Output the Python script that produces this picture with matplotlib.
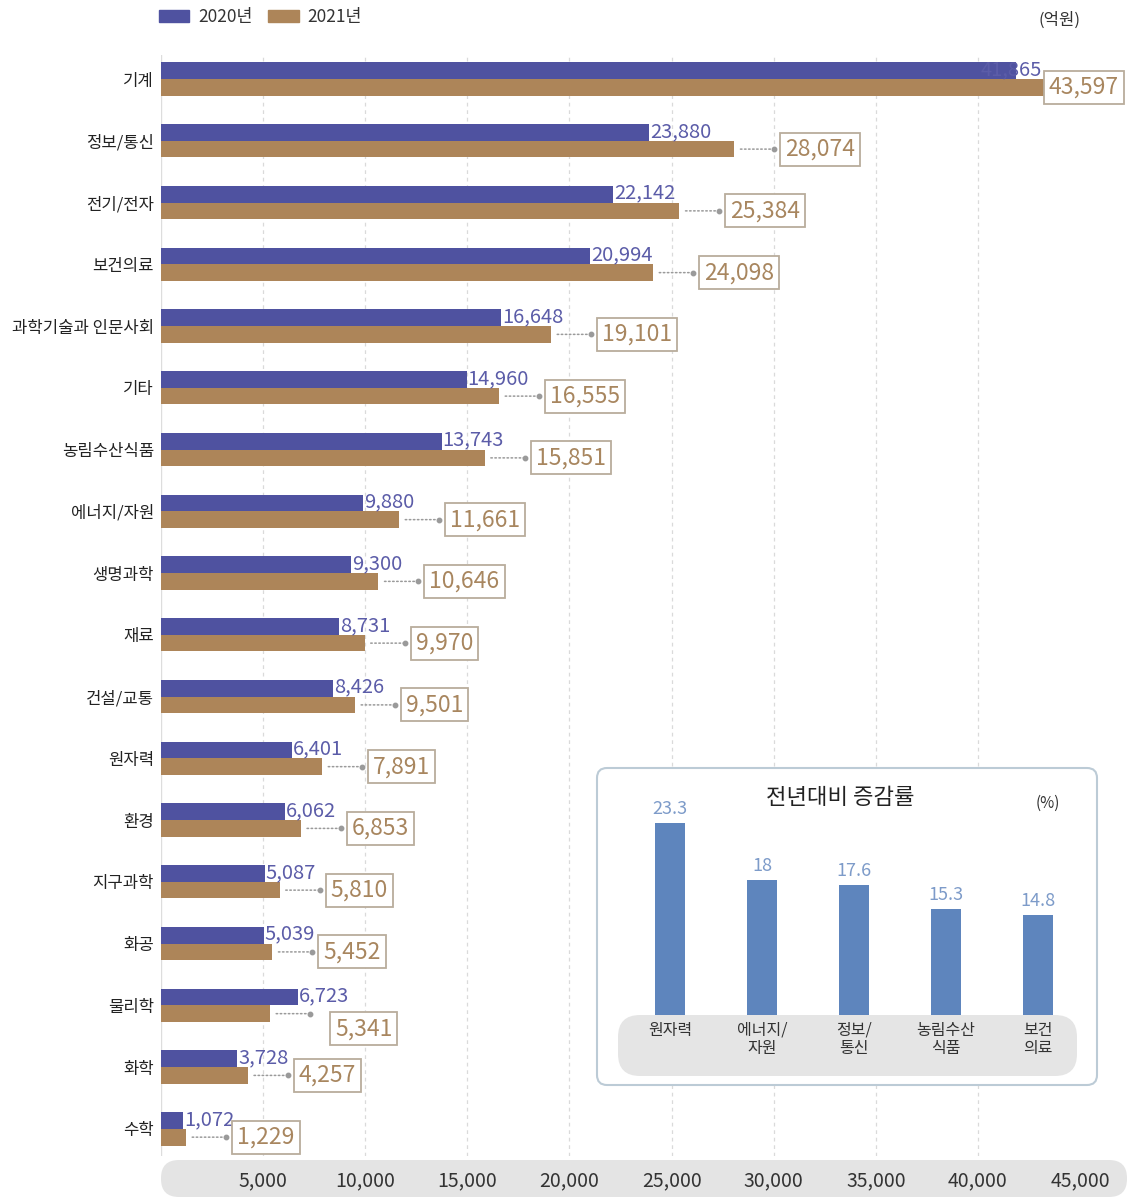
import matplotlib
matplotlib.use('Agg')
import matplotlib.pyplot as plt
from matplotlib.patches import FancyBboxPatch, Patch
from matplotlib import transforms

plt.rcParams['font.family'] = ['Noto Sans CJK KR', 'DejaVu Sans']

# ---- data (억원) ----
categories = ['기계', '정보/통신', '전기/전자', '보건의료', '과학기술과 인문사회', '기타',
              '농림수산식품', '에너지/자원', '생명과학', '재료', '건설/교통', '원자력',
              '환경', '지구과학', '화공', '물리학', '화학', '수학']
values_2020 = [41865, 23880, 22142, 20994, 16648, 14960, 13743, 9880, 9300, 8731,
               8426, 6401, 6062, 5087, 5039, 6723, 3728, 1072]
values_2021 = [43597, 28074, 25384, 24098, 19101, 16555, 15851, 11661, 10646, 9970,
               9501, 7891, 6853, 5810, 5452, 5341, 4257, 1229]
x_ticks = [5000, 10000, 15000, 20000, 25000, 30000, 35000, 40000, 45000]
series_labels = ['2020년', '2021년']

# year-on-year growth (%)
growth_categories = ['원자력', '에너지/\n자원', '정보/\n통신', '농림수산\n식품', '보건\n의료']
growth_rates = [23.3, 18, 17.6, 15.3, 14.8]

# ---- styling ----
BLUE = '#4f52a0'
BROWN = '#ad8559'
BLUE_TXT = '#5b5ca8'
BOX_TXT = '#a8865f'
BOX_EDGE = '#b9ad9c'
ARROW = '#9a9a9a'
GRID = '#dadada'
STEEL = '#5e85bd'

W, H, DPI = 1130, 1198, 100
fig = plt.figure(figsize=(W / DPI, H / DPI), dpi=DPI)


def fig_rect(left, top, right, bottom):
    return [left / W, 1 - bottom / H, (right - left) / W, (bottom - top) / H]


def px_box(ax, left, top, right, bottom, radius, **kw):
    """Rounded rectangle given in pixels measured from the top-left corner."""
    p = FancyBboxPatch((left / DPI, (H - bottom) / DPI), (right - left) / DPI,
                       (bottom - top) / DPI,
                       boxstyle=f'round,pad=0,rounding_size={radius / DPI}',
                       transform=fig.dpi_scale_trans, clip_on=False, **kw)
    ax.add_patch(p)
    return p


# ---- main horizontal bar chart ----
ax = fig.add_axes(fig_rect(161, 55, 1125, 1156))
ax.set_facecolor('none')
n = len(categories)
ypos = list(range(n))
bh = 0.27
ax.barh([y - bh / 2 for y in ypos], values_2020, height=bh, color=BLUE, zorder=2)
ax.barh([y + bh / 2 for y in ypos], values_2021, height=bh, color=BROWN, zorder=2)

ax.set_xlim(0, 47200)
ax.set_ylim(17.44, -0.389)
for s in ax.spines.values():
    s.set_visible(False)

ax.set_yticks(ypos)
ax.set_yticklabels(categories, fontsize=12, color='#222222')
ax.tick_params(axis='y', length=0, pad=5)
ax.set_xticks(x_ticks)
ax.set_xticklabels([f'{t:,}' for t in x_ticks], fontsize=14, color='#333333')
ax.tick_params(axis='x', length=0, pad=10)

for t in x_ticks[:-1]:
    ax.axvline(t, color=GRID, lw=0.9, ls=(0, (3, 3)), zorder=0)
ax.axvline(0, color='#dddddd', lw=1.0, zorder=0)

# bottom tick band
px_box(ax, 161, 1160, 1127, 1197, 18, facecolor='#e4e4e4', edgecolor='none', zorder=0)

# label nudges in pixels (x right, y up)
blue_nudge = {'기계': (-36, 0)}
box_nudge = {'물리학': (14, -15)}

ARROW_LEN = 40
BOX_GAP = 51
x_right_px = 1125

for i, (cat, v20, v21) in enumerate(zip(categories, values_2020, values_2021)):
    yb = i - bh / 2
    yr = i + bh / 2
    dx, dy = blue_nudge.get(cat, (0, 0))
    ax.annotate(f'{v20:,}', xy=(v20, yb), xytext=(1 + dx, 1 + dy),
                textcoords='offset pixels', ha='left', va='center',
                fontsize=14.5, color=BLUE_TXT, zorder=4)

    end_px = ax.transData.transform((v21, yr))[0]
    box_kw = dict(boxstyle='square,pad=0.22', fc='white', ec=BOX_EDGE, lw=1.3)
    if end_px + BOX_GAP + 80 > x_right_px:
        # not enough room to the right: pin the box to the right edge
        ax.annotate(f'{v21:,}', xy=(1, yr), xycoords=('axes fraction', 'data'),
                    xytext=(-6, 0), textcoords='offset pixels', ha='right',
                    va='center', fontsize=16.5, color=BOX_TXT, bbox=box_kw,
                    zorder=5, annotation_clip=False)
        continue
    bx, by = box_nudge.get(cat, (0, 0))
    ax.annotate(f'{v21:,}', xy=(v21, yr), xytext=(BOX_GAP + bx, by),
                textcoords='offset pixels', ha='left', va='center',
                fontsize=16.5, color=BOX_TXT, bbox=box_kw, zorder=5,
                annotation_clip=False)
    ax.annotate('', xy=(v21, yr), xytext=(ARROW_LEN, 0), textcoords='offset pixels',
                arrowprops=dict(arrowstyle='-', linestyle=':', color=ARROW, lw=1.1,
                                shrinkA=0, shrinkB=3), zorder=3)
    tdot = transforms.offset_copy(ax.transData, fig=fig, x=ARROW_LEN, y=0, units='dots')
    ax.plot([v21], [yr], marker='o', ms=3.2, color=ARROW, transform=tdot,
            clip_on=False, zorder=3)

# legend and unit
fig.legend(handles=[Patch(color=BLUE, label=series_labels[0]),
                    Patch(color=BROWN, label=series_labels[1])],
           loc='upper left', bbox_to_anchor=(159 / W, 1 - 8 / H), ncol=2,
           frameon=False, fontsize=12.5, handlelength=1.75, handleheight=0.7,
           handletextpad=0.5, columnspacing=0.9, borderaxespad=0, borderpad=0,
           labelcolor='#333333')
fig.text(1060 / W, 1 - 20 / H, '(억원)', ha='center', va='center',
         fontsize=12, color='#333333')

# ---- inset: growth rate ----
ax_in = fig.add_axes(fig_rect(597, 768, 1097, 1085))
ax_in.set_facecolor('none')
ax_in.axis('off')
ax_in.set_xlim(-0.793, 4.641)
ax_in.set_ylim(-0.924, 28.37)
px_box(ax_in, 597, 768, 1097, 1085, 10, facecolor='white', edgecolor='#bccbd6',
       lw=1.5, zorder=0)
ax_in.bar(range(len(growth_rates)), growth_rates, width=0.33, color=STEEL, zorder=2)
px_box(ax_in, 618, 1015, 1077, 1076, 22, facecolor='#e5e5e5', edgecolor='none', zorder=3)
for i, (lab, r) in enumerate(zip(growth_categories, growth_rates)):
    ax_in.annotate(f'{r:g}', xy=(i, r), xytext=(0, 5), textcoords='offset pixels',
                   ha='center', va='bottom', fontsize=13, color='#7d9bc9', zorder=4)
    ax_in.text(i, 4.9, lab, ha='center', va='top', fontsize=11.5, color='#333333',
               linespacing=1.1, zorder=4)
fig.text(840 / W, 1 - 798 / H, '전년대비 증감률', ha='center', va='center',
         fontsize=16, color='#222222')
fig.text(1048 / W, 1 - 803 / H, '(%)', ha='center', va='center',
         fontsize=11, color='#333333')

fig.savefig('out.png', dpi=DPI)
